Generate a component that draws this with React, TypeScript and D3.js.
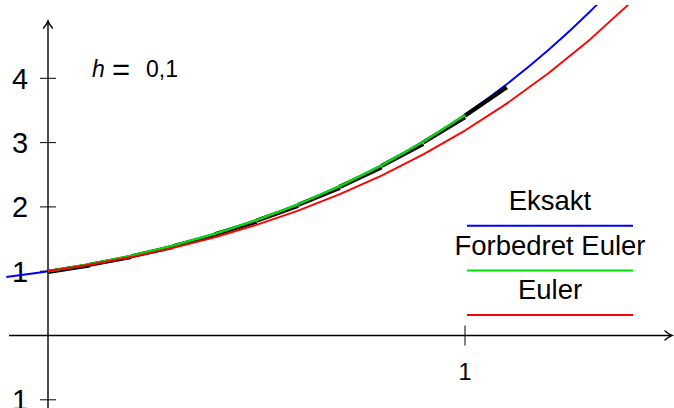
import React, { useEffect, useRef } from 'react';
import * as d3 from 'd3';

// values (y' = x + y, h = 0,1)
const exactX = [-0.1, 0, 0.1, 0.2, 0.3, 0.4, 0.5, 0.6, 0.7, 0.8, 0.9, 1.0, 1.1, 1.2, 1.3, 1.4];
const exactY = [0.910, 1, 1.110, 1.243, 1.400, 1.584, 1.797, 2.044, 2.328, 2.651, 3.019, 3.437, 3.908, 4.440, 5.039, 5.710];

const eulerX = [0, 0.1, 0.2, 0.3, 0.4, 0.5, 0.6, 0.7, 0.8, 0.9, 1.0, 1.1, 1.2, 1.3, 1.4];
const eulerY = [1, 1.1, 1.22, 1.362, 1.528, 1.721, 1.943, 2.197, 2.487, 2.816, 3.187, 3.606, 4.077, 4.605, 5.195];

const heunX = [0, 0.1, 0.2, 0.3, 0.4, 0.5, 0.6, 0.7, 0.8, 0.9, 1.0];
const heunY = [1, 1.11, 1.242, 1.398, 1.582, 1.795, 2.041, 2.323, 2.646, 3.012, 3.428];
// end of the black predictor step starting at each improved-Euler point
const stepEndY = [1.1, 1.231, 1.386, 1.568, 1.780, 2.025, 2.305, 2.625, 2.991, 3.403, 3.871];

const yTicks = [-1, 1, 2, 3, 4];
const yTickLabels = ['1', '1', '2', '3', '4'];
const xTicks = [1];
const xTickLabels = ['1'];

const legendNames = ['Eksakt', 'Forbedret Euler', 'Euler'];
const legendColors = ['#0000ff', '#00e000', '#ff0000'];

const FONT = '"Liberation Sans", Arial, Helvetica, sans-serif';

function App() {
    const svgRef = useRef<SVGSVGElement>(null);

    useEffect(() => {
        const W = 674, H = 408;
        const svg = d3.select(svgRef.current);
        svg.selectAll('*').remove();

        const x = d3.scaleLinear().domain([0, 1]).range([48, 465]);
        const y = d3.scaleLinear().domain([0, 1]).range([335.5, 271.2]);

        svg.append('defs').append('clipPath').attr('id', 'plotclip')
            .append('rect').attr('x', 0).attr('y', 5).attr('width', W).attr('height', H);

        // axes
        const ax = svg.append('g').attr('stroke', '#000').attr('fill', 'none').attr('stroke-width', 1.4);
        ax.append('line').attr('x1', 9).attr('x2', 671).attr('y1', y(0)).attr('y2', y(0));
        ax.append('line').attr('x1', x(0)).attr('x2', x(0)).attr('y1', H).attr('y2', 21);
        // arrow tips
        const tx = 672, ty = y(0);
        ax.append('path').attr('stroke-linecap', 'round')
            .attr('d', `M${tx - 7},${ty - 4.5} Q${tx - 3},${ty - 1} ${tx},${ty} Q${tx - 3},${ty + 1} ${tx - 7},${ty + 4.5}`);
        const vx = x(0), vy = 21;
        ax.append('path').attr('stroke-linecap', 'round')
            .attr('d', `M${vx - 4.5},${vy + 7} Q${vx - 1},${vy + 3} ${vx},${vy} Q${vx + 1},${vy + 3} ${vx + 4.5},${vy + 7}`);

        // ticks
        yTicks.forEach((t, i) => {
            ax.append('line').attr('x1', x(0) - 8).attr('x2', x(0) + 8).attr('y1', y(t)).attr('y2', y(t))
                .attr('stroke-width', 1);
            svg.append('text').attr('x', 20).attr('y', y(t) + 10.5)
                .attr('text-anchor', 'middle').attr('font-family', FONT).attr('font-size', 29)
                .text(yTickLabels[i]);
        });
        xTicks.forEach((t, i) => {
            ax.append('line').attr('x1', x(t)).attr('x2', x(t)).attr('y1', y(0) - 10).attr('y2', y(0) + 10)
                .attr('stroke-width', 1);
            svg.append('text').attr('x', x(t)).attr('y', 380)
                .attr('text-anchor', 'middle').attr('font-family', FONT).attr('font-size', 23.5)
                .text(xTickLabels[i]);
        });

        const plot = svg.append('g').attr('clip-path', 'url(#plotclip)').attr('fill', 'none');

        const exactLine = d3.line<number>().x((d, i) => x(exactX[i])).y(d => y(d)).curve(d3.curveCatmullRom);
        plot.append('path').attr('d', exactLine(exactY)).attr('stroke', legendColors[0]).attr('stroke-width', 1.9);

        // predictor steps
        heunY.forEach((v, i) => {
            plot.append('line')
                .attr('x1', x(heunX[i])).attr('y1', y(v) + 0.6)
                .attr('x2', x(heunX[i] + 0.1)).attr('y2', y(stepEndY[i]) + 0.6)
                .attr('stroke', '#000').attr('stroke-width', 4.2);
        });

        const heunLine = d3.line<number>().x((d, i) => x(heunX[i])).y(d => y(d));
        plot.append('path').attr('d', heunLine(heunY)).attr('stroke', legendColors[1]).attr('stroke-width', 2.4)
            .attr('stroke-linejoin', 'round');

        const eulerLine = d3.line<number>().x((d, i) => x(eulerX[i])).y(d => y(d));
        plot.append('path').attr('d', eulerLine(eulerY)).attr('stroke', legendColors[2]).attr('stroke-width', 1.9)
            .attr('stroke-linejoin', 'round');

        // h label
        const hl = svg.append('g').attr('font-family', FONT).attr('font-size', 23);
        hl.append('text').attr('x', 92).attr('y', 77).attr('font-style', 'italic').text('h');
        hl.append('text').attr('x', 112).attr('y', 80).attr('font-size', 31).text('=');
        hl.append('text').attr('x', 146).attr('y', 77).text('0,1');

        // legend
        const lg = svg.append('g');
        legendNames.forEach((name, i) => {
            const base = 210 + i * 44.7;
            lg.append('text').attr('x', 550).attr('y', base).attr('text-anchor', 'middle')
                .attr('font-family', FONT).attr('font-size', 27.5).text(name);
            lg.append('line').attr('x1', 467).attr('x2', 633).attr('y1', base + 15.7).attr('y2', base + 15.7)
                .attr('stroke', legendColors[i]).attr('stroke-width', 2);
        });
    }, []);

    return (
        <svg ref={svgRef} width={674} height={408}
            style={{ position: 'absolute', left: 0, top: 0, background: '#fff' }}></svg>
    );
}

export default App;
